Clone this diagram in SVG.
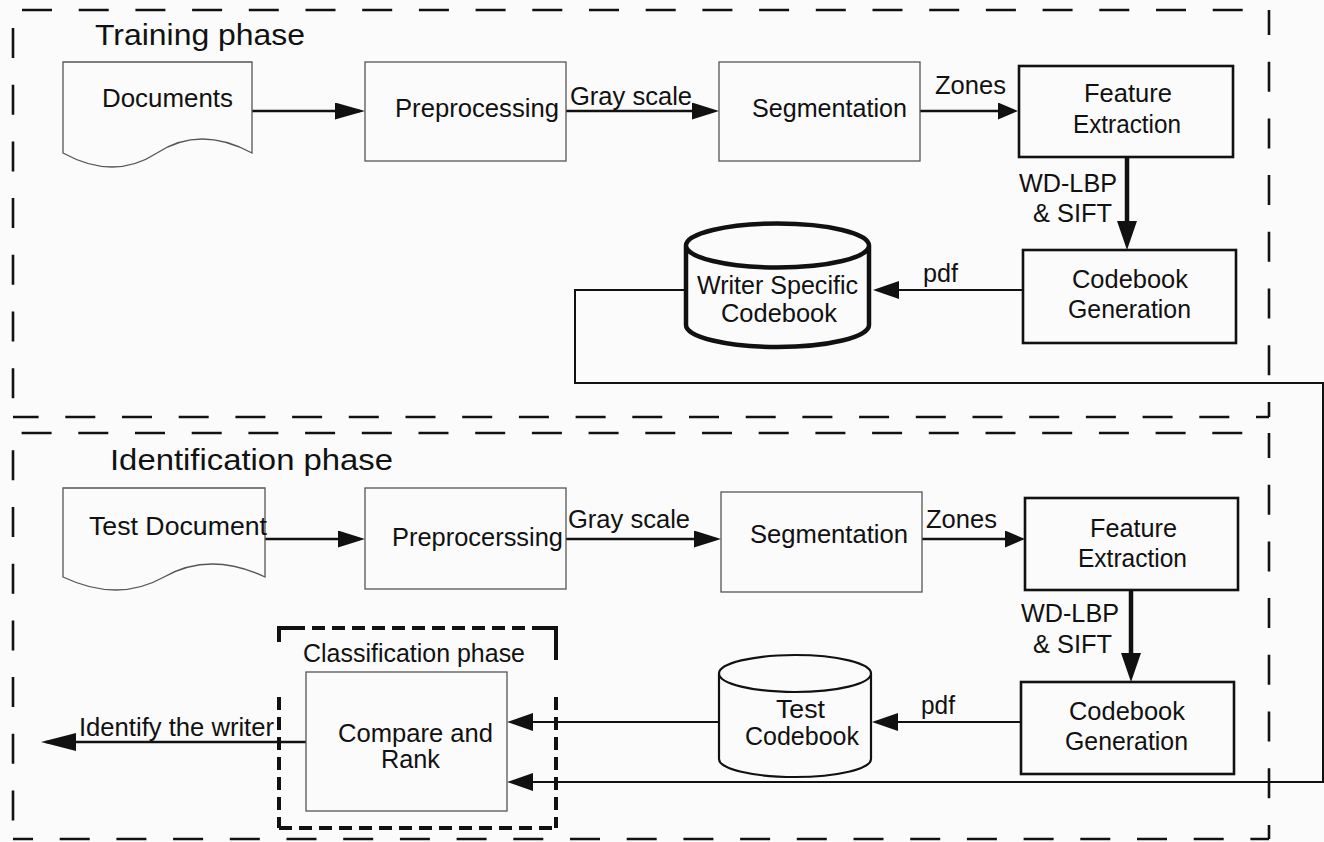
<svg xmlns="http://www.w3.org/2000/svg" width="1324" height="842" viewBox="0 0 1324 842">
<style>
text{font-family:"Liberation Sans",Arial,sans-serif;font-size:25px;fill:#111;}
.title{font-size:30px;}
.lite{fill:none;stroke:#555;stroke-width:1.3;}
.bold{fill:none;stroke:#111;stroke-width:2.6;}
.border{stroke:#111;stroke-width:2.6;stroke-dasharray:30 26.7;fill:none;}
.cls{stroke:#111;stroke-width:4;stroke-dasharray:13 7;fill:none;}
.cl{stroke:#111;fill:none;}
</style>
<defs>
<marker id="m30" viewBox="0 0 30 17" markerUnits="userSpaceOnUse" markerWidth="30" markerHeight="17" refX="25" refY="8.5" orient="auto"><path d="M0,0 L30,8.5 L0,17 Z" fill="#111"/></marker>
<marker id="m27" viewBox="0 0 27 17" markerUnits="userSpaceOnUse" markerWidth="27" markerHeight="17" refX="22" refY="8.5" orient="auto"><path d="M0,0 L27,8.5 L0,17 Z" fill="#111"/></marker>
<marker id="m20" viewBox="0 0 20 17" markerUnits="userSpaceOnUse" markerWidth="20" markerHeight="17" refX="15" refY="8.5" orient="auto"><path d="M0,0 L20,8.5 L0,17 Z" fill="#111"/></marker>
<marker id="m26" viewBox="0 0 26 18" markerUnits="userSpaceOnUse" markerWidth="26" markerHeight="18" refX="21" refY="9" orient="auto"><path d="M0,0 L26,9 L0,18 Z" fill="#111"/></marker>
<marker id="m35" viewBox="0 0 35 18" markerUnits="userSpaceOnUse" markerWidth="35" markerHeight="18" refX="30" refY="9" orient="auto"><path d="M0,0 L35,9 L0,18 Z" fill="#111"/></marker>
<marker id="mt" viewBox="0 0 29 20" markerUnits="userSpaceOnUse" markerWidth="29" markerHeight="20" refX="21" refY="10" orient="auto"><path d="M0,0 L29,10 L0,20 Z" fill="#111"/></marker>
</defs>
<rect x="0" y="0" width="1324" height="842" fill="#fbfbfb"/>

<g id="training-phase">
<line class="border" x1="13" y1="10" x2="1269" y2="10" stroke-dashoffset="47.7"/>
<line class="border" x1="13" y1="10" x2="13" y2="417" stroke-dashoffset="38.7"/>
<line class="border" x1="1269" y1="10" x2="1269" y2="417" stroke-dashoffset="5"/>
<line class="border" x1="1269" y1="417" x2="13" y2="417" stroke-dashoffset="17"/>
<text class="title" x="95" y="45" textLength="210" lengthAdjust="spacingAndGlyphs">Training phase</text>
</g>

<g id="identification-phase">
<line class="border" x1="1269" y1="433" x2="13" y2="433" stroke-dashoffset="30"/>
<line class="border" x1="13" y1="433" x2="13" y2="839" stroke-dashoffset="39.4"/>
<line class="border" x1="1269" y1="433" x2="1269" y2="839" stroke-dashoffset="5"/>
<line class="border" x1="13" y1="839" x2="1269" y2="839" stroke-dashoffset="10"/>
<text class="title" x="110" y="470" textLength="283" lengthAdjust="spacingAndGlyphs">Identification phase</text>
</g>

<g id="classification-phase">
<path class="cl" stroke-width="4" d="M279,642 V628 H292 M543,628 H556 V660"/>
<line class="cls" x1="292" y1="628" x2="543" y2="628"/>
<line class="cls" x1="279" y1="697" x2="279" y2="828"/>
<line class="cls" x1="556" y1="697" x2="556" y2="828"/>
<line class="cls" x1="279" y1="828" x2="556" y2="828"/>
<text x="303" y="662" font-size="27" textLength="222" lengthAdjust="spacingAndGlyphs">Classification phase</text>
</g>

<g id="connectors">
<line class="cl" stroke-width="2.5" x1="252" y1="111" x2="360" y2="111" marker-end="url(#m30)"/>
<line class="cl" stroke-width="2.5" x1="566" y1="111" x2="714" y2="111" marker-end="url(#m27)"/>
<line class="cl" stroke-width="2.5" x1="920" y1="111" x2="1013" y2="111" marker-end="url(#m20)"/>
<line class="cl" stroke-width="4.5" x1="1127" y1="157" x2="1127" y2="242" marker-end="url(#mt)"/>
<line class="cl" stroke-width="2" x1="1023" y1="290" x2="878" y2="290" marker-end="url(#m26)"/>
<polyline class="cl" stroke-width="2" points="686,290 575,290 575,383 1323,383 1323,782 512,782" marker-end="url(#m26)"/>
<line class="cl" stroke-width="2.5" x1="265" y1="539" x2="360" y2="539" marker-end="url(#m27)"/>
<line class="cl" stroke-width="2.5" x1="566" y1="539" x2="716" y2="539" marker-end="url(#m27)"/>
<line class="cl" stroke-width="2.5" x1="922" y1="539" x2="1020" y2="539" marker-end="url(#m20)"/>
<line class="cl" stroke-width="4.5" x1="1131" y1="590" x2="1131" y2="674" marker-end="url(#mt)"/>
<line class="cl" stroke-width="2" x1="1021" y1="722" x2="877" y2="722" marker-end="url(#m26)"/>
<line class="cl" stroke-width="2" x1="719" y1="722" x2="512" y2="722" marker-end="url(#m26)"/>
<line class="cl" stroke-width="2.5" x1="306" y1="742" x2="46" y2="742" marker-end="url(#m35)"/>
<text x="570" y="105" textLength="122" lengthAdjust="spacingAndGlyphs">Gray scale</text>
<text x="935" y="94" textLength="71" lengthAdjust="spacingAndGlyphs">Zones</text>
<text x="1019" y="192" textLength="98" lengthAdjust="spacingAndGlyphs">WD-LBP</text>
<text x="1033" y="222" textLength="79" lengthAdjust="spacingAndGlyphs">&amp; SIFT</text>
<text x="923" y="282" textLength="35" lengthAdjust="spacingAndGlyphs">pdf</text>
<text x="568" y="528" textLength="122" lengthAdjust="spacingAndGlyphs">Gray scale</text>
<text x="926" y="528" textLength="71" lengthAdjust="spacingAndGlyphs">Zones</text>
<text x="1021" y="622" textLength="98" lengthAdjust="spacingAndGlyphs">WD-LBP</text>
<text x="1033" y="653" textLength="79" lengthAdjust="spacingAndGlyphs">&amp; SIFT</text>
<text x="921" y="714" textLength="34" lengthAdjust="spacingAndGlyphs">pdf</text>
<text x="79" y="736" textLength="195" lengthAdjust="spacingAndGlyphs">Identify the writer</text>
</g>

<g id="documents">
<path class="lite" d="M63,62 H252 V153 Q200,125 157,153 T63,153 Z"/>
<text x="102" y="107" textLength="131" lengthAdjust="spacingAndGlyphs">Documents</text>
</g>
<g id="preprocessing">
<rect class="lite" x="365" y="62" width="201" height="99"/>
<text x="395" y="117" textLength="164" lengthAdjust="spacingAndGlyphs">Preprocessing</text>
</g>
<g id="segmentation">
<rect class="lite" x="719" y="62" width="201" height="99"/>
<text x="752" y="117" textLength="155" lengthAdjust="spacingAndGlyphs">Segmentation</text>
</g>
<g id="feature-extraction">
<rect class="bold" x="1019" y="66" width="214" height="91"/>
<text x="1084" y="102" textLength="88" lengthAdjust="spacingAndGlyphs">Feature</text>
<text x="1073" y="133" textLength="108" lengthAdjust="spacingAndGlyphs">Extraction</text>
</g>
<g id="codebook-generation">
<rect class="bold" x="1023" y="250" width="213" height="93"/>
<text x="1072" y="288" textLength="116" lengthAdjust="spacingAndGlyphs">Codebook</text>
<text x="1068" y="318" textLength="123" lengthAdjust="spacingAndGlyphs">Generation</text>
</g>
<g id="writer-specific-codebook">
<path fill="#fbfbfb" stroke="#111" stroke-width="4.5" d="M686,245.5 A91.5,22 0 0,1 869,245.5 A91.5,22 0 0,1 686,245.5 Z M686,245.5 V325 A91.5,22 0 0,0 869,325 V245.5"/>
<text x="697" y="294" font-size="23" textLength="161" lengthAdjust="spacingAndGlyphs">Writer Specific</text>
<text x="721" y="322" font-size="23" textLength="116" lengthAdjust="spacingAndGlyphs">Codebook</text>
</g>

<g id="test-document">
<path class="lite" d="M63,488 H265 V577 Q210,551 164,577 T63,577 Z"/>
<text x="89" y="535" font-size="26" textLength="178" lengthAdjust="spacingAndGlyphs">Test Document</text>
</g>
<g id="preprocerssing">
<rect class="lite" x="365" y="488" width="201" height="101"/>
<text x="392" y="546" textLength="171" lengthAdjust="spacingAndGlyphs">Preprocerssing</text>
</g>
<g id="segmentation-2">
<rect class="lite" x="721" y="492" width="201" height="100"/>
<text x="750" y="543" textLength="158" lengthAdjust="spacingAndGlyphs">Segmentation</text>
</g>
<g id="feature-extraction-2">
<rect class="bold" x="1025" y="498" width="213" height="92"/>
<text x="1090" y="537" textLength="87" lengthAdjust="spacingAndGlyphs">Feature</text>
<text x="1078" y="567" textLength="109" lengthAdjust="spacingAndGlyphs">Extraction</text>
</g>
<g id="codebook-generation-2">
<rect class="bold" x="1021" y="682" width="213" height="92"/>
<text x="1069" y="720" textLength="116" lengthAdjust="spacingAndGlyphs">Codebook</text>
<text x="1065" y="750" textLength="123" lengthAdjust="spacingAndGlyphs">Generation</text>
</g>
<g id="test-codebook">
<path fill="#fbfbfb" stroke="#111" stroke-width="2.2" d="M719,673.5 A76,18.5 0 0,1 871,673.5 A76,18.5 0 0,1 719,673.5 Z M719,673.5 V759 A76,18 0 0,0 871,759 V673.5"/>
<text x="776" y="718" textLength="49" lengthAdjust="spacingAndGlyphs">Test</text>
<text x="745" y="745" textLength="114" lengthAdjust="spacingAndGlyphs">Codebook</text>
</g>
<g id="compare-and-rank">
<rect class="lite" x="306" y="672" width="201" height="139"/>
<text x="338" y="742" textLength="155" lengthAdjust="spacingAndGlyphs">Compare and</text>
<text x="381" y="768" textLength="59" lengthAdjust="spacingAndGlyphs">Rank</text>
</g>
</svg>
